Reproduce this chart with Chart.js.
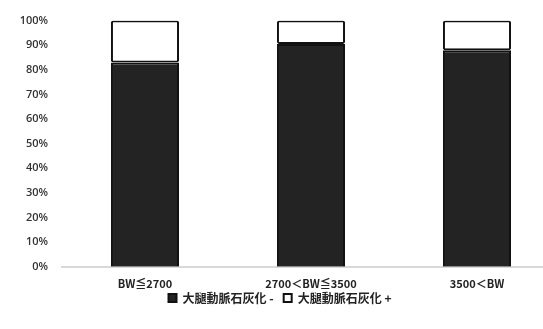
<!DOCTYPE html>
<html>
<head>
<meta charset="utf-8">
<script src="https://cdn.jsdelivr.net/npm/chart.js@4"></script>
<style>
  html, body { margin: 0; padding: 0; background: #fff; overflow: hidden; }
  #wrap { width: 622px; height: 329px; }
</style>
</head>
<body>
<div id="wrap"><canvas id="barChart"></canvas></div>
<script>
// categories and values (percent)
var categories = ['BW≦2700', '2700＜BW≦3500', '3500＜BW'];
var calcNeg = [83, 90.5, 88];   // 大腿動脈石灰化 -
var calcPos = [17, 9.5, 12];    // 大腿動脈石灰化 +
var yTicks = ['0%', '10%', '20%', '30%', '40%', '50%', '60%', '70%', '80%', '90%', '100%'];

var tickFont = { family: "'Open Sans', 'Noto Sans CJK JP', sans-serif", size: 11, weight: '600' };

// x labels sit close to the legend; let them draw past the shrunk axis box
var unclipXLabels = {
    id: 'unclipXLabels',
    afterLayout: function (chart) {
        chart.scales.x.bottom += 18;
    }
};

var ctx = document.getElementById('barChart').getContext('2d');
var currentBarChart = new Chart(ctx, {
    type: 'bar',
    data: {
        labels: categories,
        datasets: [{
            label: '大腿動脈石灰化 -',
            data: calcNeg,
            backgroundColor: '#232323',
            borderColor: '#111',
            borderWidth: 2
        }, {
            label: '大腿動脈石灰化 +',
            data: calcPos,
            backgroundColor: '#ffffff',
            borderColor: '#111',
            borderWidth: 2,
            borderRadius: 2,
            borderSkipped: false
        }]
    },
    plugins: [unclipXLabels],
    options: {
        responsive: true,
        maintainAspectRatio: false,
        animation: false,
        datasets: {
            bar: { categoryPercentage: 1, barPercentage: 0.41 }
        },
        layout: { padding: { top: 20, right: 62, bottom: 15, left: 0 } },
        plugins: {
            tooltip: { enabled: false },
            legend: {
                position: 'bottom',
                labels: {
                    color: '#222',
                    font: { family: "'Noto Sans CJK JP', sans-serif", size: 12, weight: 'bold' },
                    boxWidth: 8,
                    boxHeight: 8,
                    padding: 10,
                    useBorderRadius: false
                }
            }
        },
        scales: {
            x: {
                stacked: true,
                grid: { display: false, drawTicks: false },
                border: { display: true, color: '#d9d9d9', width: 2 },
                afterFit: function (scale) { scale.height -= 18; },
                ticks: { color: '#222', font: { family: "'Noto Sans CJK JP', sans-serif", size: 11, weight: '600' }, padding: 10 }
            },
            y: {
                stacked: true,
                min: 0,
                max: 100,
                grid: { display: false, drawTicks: false },
                border: { display: false },
                afterFit: function (scale) { scale.width = 62; },
                ticks: {
                    stepSize: 10,
                    padding: 14,
                    color: '#333',
                    font: tickFont,
                    callback: function (v, i) { return yTicks[i]; }
                }
            }
        }
    }
});
</script>
</body>
</html>
